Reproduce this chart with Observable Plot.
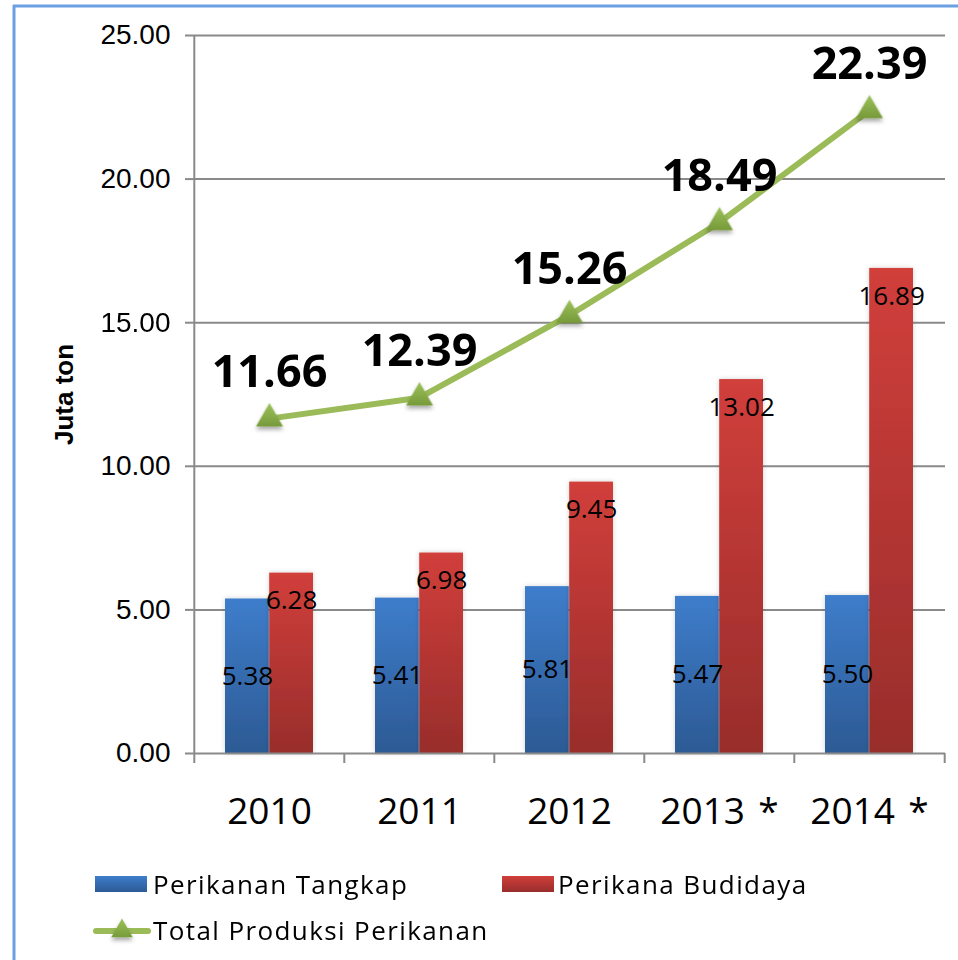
<!DOCTYPE html>
<html>
<head>
<meta charset="utf-8">
<script src="https://cdn.jsdelivr.net/npm/d3@7"></script>
<script src="https://cdn.jsdelivr.net/npm/@observablehq/plot@0.6"></script>
<style>
  html, body { margin: 0; padding: 0; background: #fff; }
  #chart { position: relative; width: 958px; height: 960px; overflow: hidden; }
</style>
</head>
<body>
<div id="chart"></div>
<script>
const years = ["2010", "2011", "2012", "2013 *", "2014 *"];
const tangkap = [5.38, 5.41, 5.81, 5.47, 5.50];
const budidaya = [6.28, 6.98, 9.45, 13.02, 16.89];
const total = [11.66, 12.39, 15.26, 18.49, 22.39];
const yTicks = [0, 5, 10, 15, 20, 25];
const gridTicks = [5, 10, 15, 20, 25];
const seriesNames = ["Perikanan Tangkap", "Perikana Budidaya", "Total Produksi Perikanan"];

const data = years.map((year, i) => ({year, tangkap: tangkap[i], budidaya: budidaya[i], total: total[i]}));

const W = 958, H = 960, ML = 193, MR = 13, MT = 35, MB = 207;
const step = (W - ML - MR) / years.length;
const innerPad = 31;
const half = step / 2;
const barOff = (half - innerPad) / 2;

const sans = "'Open Sans', 'Noto Sans', sans-serif";
const arial = "'Liberation Sans', Arial, sans-serif";

const chart = Plot.plot({
  width: W, height: H,
  marginLeft: ML, marginRight: MR, marginTop: MT, marginBottom: MB,
  x: {domain: years, padding: 0},
  y: {domain: [0, 25]},
  style: {background: "white", color: "black"},
  marks: [
    Plot.ruleY(gridTicks, {stroke: "#8a8a8a", strokeWidth: 2}),
    Plot.barY(data, {x: "year", y: "tangkap", fill: "url(#gBlue)", insetLeft: innerPad, insetRight: half}),
    Plot.barY(data, {x: "year", y: "budidaya", fill: "url(#gRed)", insetLeft: half, insetRight: innerPad}),
    Plot.ruleY([0], {stroke: "#8a8a8a", strokeWidth: 2}),
    Plot.ruleX(years, {y1: 0, y2: 0, dx: -step / 2, insetBottom: -10, stroke: "#8a8a8a", strokeWidth: 2}),
    Plot.ruleX([years[years.length - 1]], {y1: 0, y2: 0, dx: step / 2, insetBottom: -10, stroke: "#8a8a8a", strokeWidth: 2}),
    Plot.ruleX([years[0]], {y1: 0, y2: 25, dx: -step / 2, stroke: "#8a8a8a", strokeWidth: 2}),
    Plot.text(data, {x: "year", y: d => d.tangkap / 2, text: d => d.tangkap.toFixed(2), dx: -barOff - innerPad / 2 + 15.5, fontSize: 26, fontFamily: sans, fill: "black"}),
    Plot.text(data, {x: "year", y: "budidaya", text: d => d.budidaya.toFixed(2), dx: barOff + innerPad / 2 - 15.5, dy: 28, fontSize: 26, fontFamily: sans, fill: "black"}),
    Plot.line(data, {x: "year", y: "total", stroke: "#9bbb59", strokeWidth: 6}),
    Plot.dot(data, {x: "year", y: "total", symbol: "triangle", r: 10, fill: "url(#gGreen)", stroke: "none"}),
    Plot.text(data, {x: "year", y: "total", text: d => d.total.toFixed(2), dy: -46, fontSize: 45, fontWeight: "bold", fontFamily: sans, fill: "black"}),
    Plot.axisY({ticks: yTicks, tickFormat: d => d.toFixed(2), tickSize: 8, tickPadding: 15, fontSize: 28, fontFamily: arial, stroke: "#8a8a8a", strokeWidth: 2, fill: "black", label: null}),
    Plot.axisX({tickSize: 0, tickPadding: 44, fontSize: 37, fontFamily: sans, fill: "black", label: null, tickFormat: d => d.replace(" ", "\u00a0\u200a")}),
    Plot.text(["Juta ton"], {frameAnchor: "left", textAnchor: "middle", dx: -129, rotate: -90, fontSize: 26, fontWeight: "bold", fontFamily: arial, fill: "black"})
  ]
});

document.getElementById("chart").appendChild(chart);

const svg = d3.select(chart);
const defs = svg.insert("defs", ":first-child");
function grad(id, c1, c2) {
  const g = defs.append("linearGradient").attr("id", id).attr("x1", 0).attr("y1", 0).attr("x2", 0).attr("y2", 1);
  g.append("stop").attr("offset", "0%").attr("stop-color", c1);
  g.append("stop").attr("offset", "100%").attr("stop-color", c2);
}
grad("gBlue", "#3e7dcb", "#2c5a94");
grad("gRed", "#d13f3b", "#982d2b");
grad("gGreen", "#9cc25a", "#779a3a");
const f = defs.append("filter").attr("id", "shadow").attr("x", "-50%").attr("y", "-50%").attr("width", "200%").attr("height", "200%");
f.append("feDropShadow").attr("dx", 0).attr("dy", 3).attr("stdDeviation", 2).attr("flood-color", "#000").attr("flood-opacity", 0.35);
const f2 = defs.append("filter").attr("id", "glow").attr("x", "-20%").attr("y", "-20%").attr("width", "140%").attr("height", "140%");
f2.append("feDropShadow").attr("dx", 0).attr("dy", 0).attr("stdDeviation", 2.5).attr("flood-color", "#000").attr("flood-opacity", 0.18);

svg.selectAll("g[aria-label='dot']").attr("filter", "url(#shadow)");
svg.selectAll("g[aria-label='bar']").attr("filter", "url(#glow)");

// frame (left and top edge)
svg.append("line").attr("x1", 14).attr("x2", 14).attr("y1", 5).attr("y2", H).attr("stroke", "#6d9fe3").attr("stroke-width", 3);
svg.append("line").attr("x1", 13).attr("x2", W).attr("y1", 6).attr("y2", 6).attr("stroke", "#6d9fe3").attr("stroke-width", 3);

// legend
const lg = svg.append("g").attr("font-family", sans).attr("font-size", 26).attr("letter-spacing", 1.4).attr("fill", "black").attr("text-anchor", "start");
lg.append("rect").attr("x", 95).attr("y", 876).attr("width", 52).attr("height", 16).attr("fill", "url(#gBlue)");
lg.append("text").attr("x", 153).attr("y", 894).text(seriesNames[0]);
lg.append("rect").attr("x", 502).attr("y", 876).attr("width", 52).attr("height", 16).attr("fill", "url(#gRed)");
lg.append("text").attr("x", 558).attr("y", 894).text(seriesNames[1]);
lg.append("line").attr("x1", 96).attr("x2", 148).attr("y1", 931).attr("y2", 931).attr("stroke", "#9bbb59").attr("stroke-width", 6).attr("stroke-linecap", "round");
lg.append("path").attr("d", d3.symbol(d3.symbolTriangle, 200)()).attr("transform", "translate(122,931)").attr("fill", "url(#gGreen)").attr("filter", "url(#shadow)");
lg.append("text").attr("x", 153).attr("y", 940).text(seriesNames[2]);
</script>
</body>
</html>
